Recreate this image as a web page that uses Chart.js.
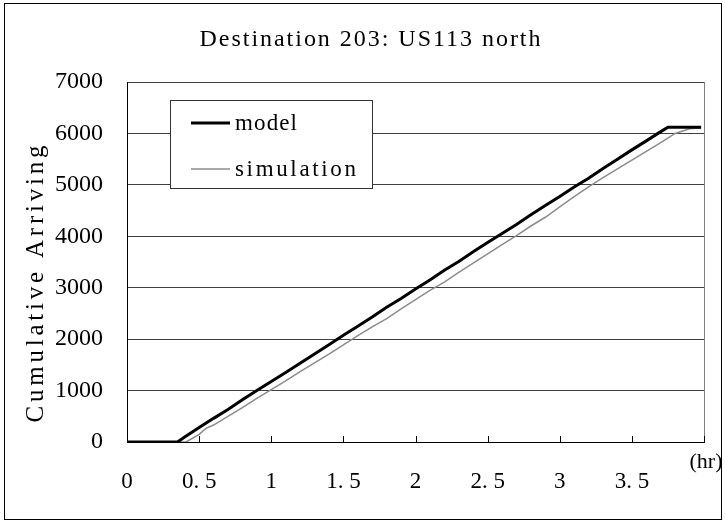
<!DOCTYPE html>
<html>
<head>
<meta charset="utf-8">
<script src="https://cdn.jsdelivr.net/npm/chart.js@4/dist/chart.umd.min.js"></script>
<style>
  html, body { margin: 0; padding: 0; background: #fff; }
  #wrap { width: 725px; height: 523px; }
</style>
</head>
<body>
<div id="wrap"><canvas id="c" width="725" height="523"></canvas></div>
<script>
// Cumulative arrivals at destination 203 (US113 north), hours vs vehicles
const chartTitle = 'Destination 203: US113 north';
const yAxisTitle = 'Cumulative Arriving';
const xUnitLabel = '(hr)';
const xTickLabels = ['0', '0. 5', '1', '1. 5', '2', '2. 5', '3', '3. 5', ''];
const yTickLabels = ['0', '1000', '2000', '3000', '4000', '5000', '6000', '7000'];

const modelHours = [0, 0.35, 0.4, 0.5, 0.6, 0.7, 0.8, 0.9, 1.0, 1.1, 1.2, 1.3, 1.4, 1.5, 1.6, 1.7, 1.8, 1.9, 2.0,
  2.1, 2.2, 2.3, 2.4, 2.5, 2.6, 2.7, 2.8, 2.9, 3.0, 3.1, 3.2, 3.3, 3.4, 3.5, 3.6, 3.7, 3.75, 3.98];
const modelArrivals = [0, 0, 95, 280, 460, 630, 820, 1000, 1175, 1350, 1530, 1710, 1890, 2075, 2250, 2430, 2620, 2790, 2975,
  3150, 3340, 3510, 3700, 3880, 4055, 4230, 4420, 4600, 4775, 4960, 5130, 5320, 5500, 5680, 5855, 6035, 6120, 6120];

const simHours = [0, 0.41, 0.5, 0.55, 0.6, 0.7, 0.8, 0.9, 1.0, 1.1, 1.2, 1.3, 1.4, 1.5, 1.6, 1.7, 1.8, 1.9, 2.0,
  2.1, 2.2, 2.3, 2.4, 2.5, 2.6, 2.7, 2.8, 2.9, 3.0, 3.1, 3.2, 3.3, 3.4, 3.5, 3.6, 3.7, 3.8, 3.9, 3.98];
const simArrivals = [0, 0, 150, 270, 330, 500, 670, 850, 1020, 1190, 1370, 1540, 1710, 1890, 2070, 2240, 2400, 2590, 2770,
  2950, 3110, 3300, 3480, 3660, 3840, 4015, 4200, 4370, 4570, 4770, 4960, 5140, 5310, 5480, 5650, 5820, 6000, 6090, 6105];

const pairs = (xs, ys) => xs.map((x, i) => ({ x: x, y: ys[i] }));

const SERIF = '"Liberation Serif", serif';

// Draw text with even letter spacing so it spans a given width.
function spacedText(ctx, text, x, y, width, align) {
  ctx.letterSpacing = '0px';
  const natural = ctx.measureText(text).width;
  const gap = Math.max(0, (width - natural) / (text.length - 1));
  ctx.letterSpacing = gap + 'px';
  ctx.textAlign = 'left';
  const left = align === 'center' ? x - width / 2 : x;
  ctx.fillText(text, left, y);
  ctx.letterSpacing = '0px';
}

const decorations = {
  id: 'decorations',
  beforeDraw(chart) {
    const ctx = chart.ctx;
    ctx.save();
    ctx.fillStyle = '#fff';
    ctx.fillRect(0, 0, chart.width, chart.height);
    ctx.restore();
  },
  afterDraw(chart) {
    const ctx = chart.ctx;
    const area = chart.chartArea;
    const xs = chart.scales.x;
    ctx.save();

    // outer frame
    ctx.strokeStyle = '#000';
    ctx.lineWidth = 1;
    ctx.strokeRect(4.5, 3.5, 717, 516);

    // right edge of the plot
    ctx.strokeStyle = '#808080';
    ctx.beginPath();
    ctx.moveTo(Math.round(area.right) + 0.5, area.top);
    ctx.lineTo(Math.round(area.right) + 0.5, area.bottom);
    ctx.stroke();

    // inward tick marks on the time axis
    ctx.strokeStyle = '#000';
    xs.ticks.forEach(t => {
      const px = Math.round(xs.getPixelForValue(t.value)) + 0.5;
      ctx.beginPath();
      ctx.moveTo(px, area.bottom);
      ctx.lineTo(px, area.bottom - 6);
      ctx.stroke();
    });

    // title
    ctx.fillStyle = '#000';
    ctx.textBaseline = 'middle';
    ctx.font = '24px ' + SERIF;
    spacedText(ctx, chartTitle, 370, 40, 341, 'center');

    // y axis title
    ctx.save();
    ctx.translate(36, 284);
    ctx.rotate(-Math.PI / 2);
    ctx.font = '25px ' + SERIF;
    spacedText(ctx, yAxisTitle, 0, 0, 277, 'center');
    ctx.restore();

    // unit label
    ctx.font = '22px ' + SERIF;
    ctx.textAlign = 'center';
    ctx.fillText(xUnitLabel, 706, 462);

    // legend
    const box = { l: 170.5, t: 100.5, w: 202, h: 88 };
    ctx.fillStyle = '#fff';
    ctx.fillRect(box.l, box.t, box.w, box.h);
    ctx.strokeStyle = '#333';
    ctx.lineWidth = 1;
    ctx.strokeRect(box.l, box.t, box.w, box.h);
    const rows = [123, 169];
    const widths = [62, 121];
    chart.data.datasets.forEach((ds, i) => {
      const y = rows[i];
      ctx.strokeStyle = ds.borderColor;
      ctx.lineWidth = ds.borderWidth;
      ctx.beginPath();
      ctx.moveTo(191, y);
      ctx.lineTo(230, y);
      ctx.stroke();
      ctx.fillStyle = '#000';
      ctx.font = '23px ' + SERIF;
      spacedText(ctx, ds.label, 235, y + 1, widths[i], 'left');
    });

    ctx.restore();
  }
};

new Chart(document.getElementById('c'), {
  type: 'line',
  data: {
    datasets: [
      {
        label: 'model',
        data: pairs(modelHours, modelArrivals),
        borderColor: '#000',
        borderWidth: 3,
        pointRadius: 0,
        tension: 0
      },
      {
        label: 'simulation',
        data: pairs(simHours, simArrivals),
        borderColor: '#8c8c8c',
        borderWidth: 1.5,
        pointRadius: 0,
        tension: 0
      }
    ]
  },
  options: {
    responsive: false,
    animation: false,
    layout: { padding: { top: 82, right: 21, left: 0, bottom: 0 } },
    plugins: {
      legend: { display: false },
      title: { display: false },
      tooltip: { enabled: false }
    },
    scales: {
      x: {
        type: 'linear',
        min: 0,
        max: 4,
        grid: { display: false },
        border: { display: true, color: '#000', width: 1 },
        ticks: {
          stepSize: 0.5,
          autoSkip: false,
          maxRotation: 0,
          padding: 18,
          color: '#000',
          font: { family: SERIF, size: 23 },
          callback: (v, i) => xTickLabels[i] !== undefined ? xTickLabels[i] : ''
        },
        afterFit: s => { s.height = 81; }
      },
      y: {
        min: 0,
        max: 7000,
        grid: { color: '#404040', lineWidth: 1, drawTicks: false },
        border: { display: true, color: '#000', width: 1 },
        ticks: {
          stepSize: 1000,
          padding: 24,
          color: '#000',
          font: { family: SERIF, size: 24 },
          callback: (v, i) => yTickLabels[i] !== undefined ? yTickLabels[i] : ''
        },
        afterFit: s => { s.width = 127; }
      }
    }
  },
  plugins: [decorations]
});
</script>
</body>
</html>
